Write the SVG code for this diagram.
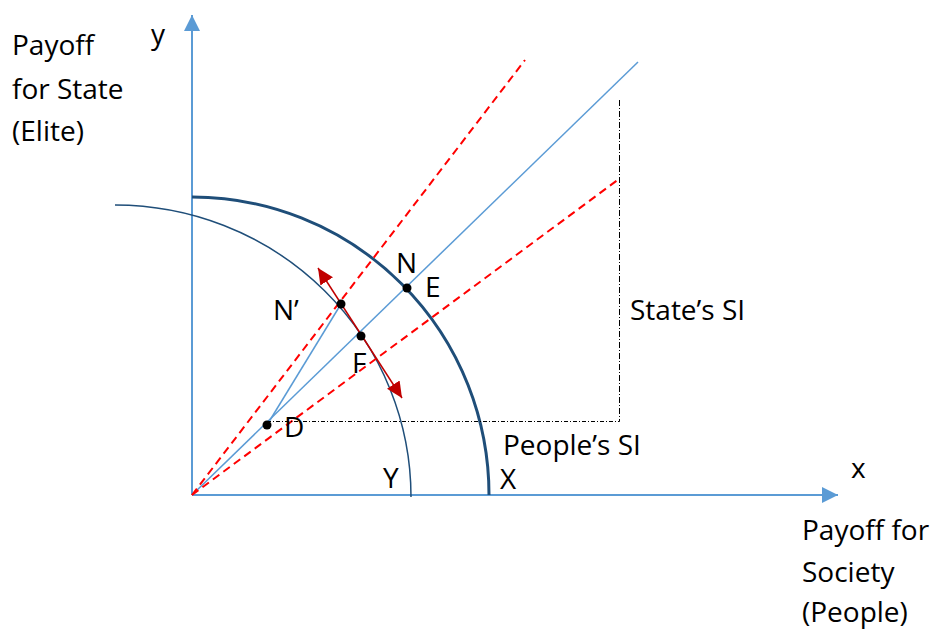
<svg xmlns="http://www.w3.org/2000/svg" width="933" height="632" viewBox="0 0 933 632">
<style>
text{font-family:"Open Sans","Liberation Sans",sans-serif;font-size:28px;fill:#000}
.axis{stroke:#5B9BD5;stroke-width:2;fill:none}
.ray{stroke:#5B9BD5;stroke-width:1.5;fill:none}
.red{stroke:#FF0000;stroke-width:2;stroke-dasharray:8 5;fill:none}
.arc{stroke:#1F4E79;fill:none}
.dd{stroke:#000;stroke-width:1;fill:none}
.dot{fill:#000}
</style>
<defs>
<marker id="ax" markerUnits="userSpaceOnUse" markerWidth="18" markerHeight="18" refX="16" refY="8" orient="auto">
<path d="M0,0 L16,8 L0,16 Z" fill="#5B9BD5"/>
</marker>
<marker id="rh" markerUnits="userSpaceOnUse" markerWidth="18" markerHeight="16" refX="16" refY="7.5" orient="auto-start-reverse">
<path d="M0,0 L16,7.5 L0,15 Z" fill="#C00000"/>
</marker>
</defs>
<g id="axes">
<line class="axis" x1="192" y1="495" x2="192" y2="15" marker-end="url(#ax)"/>
<line class="axis" x1="192" y1="495" x2="838" y2="495" marker-end="url(#ax)"/>
</g>
<g id="connectors">
<path id="arc-Y" class="arc" stroke-width="1.5" d="M115,205 A296,292 0 0 1 411,497"/>
<path id="arc-X" class="arc" stroke-width="3" d="M192,197 A297,298 0 0 1 489,495"/>
<line class="ray" x1="192" y1="495" x2="638" y2="62"/>
<line class="ray" x1="267" y1="425" x2="341" y2="304"/>
<line class="red" x1="192" y1="495" x2="525" y2="60"/>
<line class="red" x1="192" y1="495" x2="619" y2="179"/>
<line class="dd" x1="267" y1="421.5" x2="619.5" y2="421.5" stroke-dasharray="4 2 1 2"/>
<line class="dd" x1="619.5" y1="100" x2="619.5" y2="421.5" stroke-dasharray="6 2 1 2"/>
<line x1="318" y1="268" x2="402" y2="398" stroke="#C00000" stroke-width="1.5" marker-start="url(#rh)" marker-end="url(#rh)"/>
</g>
<g id="node-N"><circle class="dot" cx="407" cy="288" r="4.5"/><text x="396" y="273">N</text></g>
<g id="node-E"><text x="425" y="297">E</text></g>
<g id="node-N-prime"><circle class="dot" cx="341" cy="304" r="4.5"/><text x="273" y="320">N’</text></g>
<g id="node-F"><circle class="dot" cx="361" cy="336" r="4.5"/><text x="352" y="373">F</text></g>
<g id="node-D"><circle class="dot" cx="267" cy="425" r="4.5"/><text x="284" y="437">D</text></g>
<g id="label-Y"><text x="383" y="488">Y</text></g>
<g id="label-X"><text x="500" y="489">X</text></g>
<g id="label-peoples-si"><text x="503" y="455">People’s SI</text></g>
<g id="label-states-si"><text x="630" y="320">State’s SI</text></g>
<g id="label-y-axis"><text x="151" y="44">y</text></g>
<g id="label-x-axis"><text x="851" y="478">x</text></g>
<g id="label-state-payoff">
<text x="12" y="55">Payoff</text>
<text x="12" y="99">for State</text>
<text x="12" y="141">(Elite)</text>
</g>
<g id="label-society-payoff">
<text x="802" y="540">Payoff for</text>
<text x="802" y="582">Society</text>
<text x="802" y="622">(People)</text>
</g>
</svg>
